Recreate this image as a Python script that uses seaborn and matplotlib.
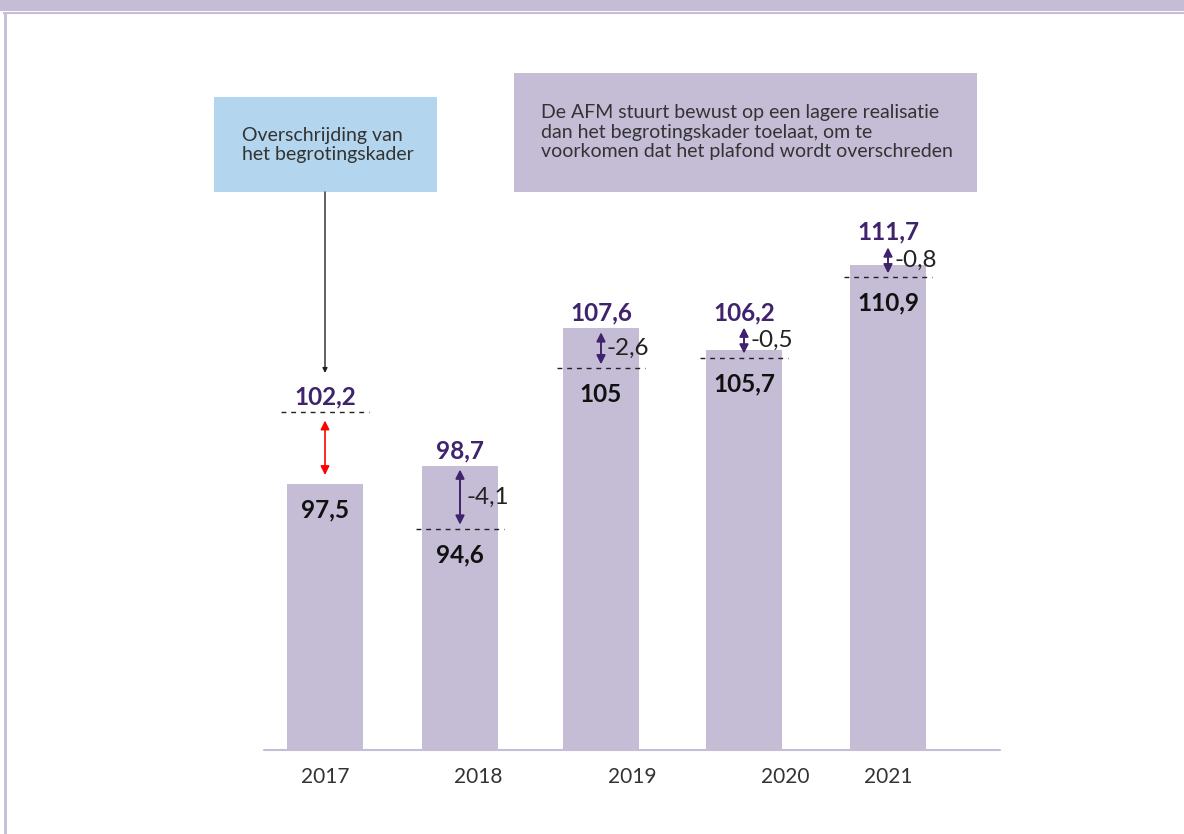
import matplotlib
matplotlib.use("Agg")
import matplotlib.pyplot as plt
from matplotlib.patches import Rectangle
import pandas as pd
import seaborn as sns

# data
years = ["2017", "2018", "2019", "2020", "2021"]
bar_values = [97.5, 98.7, 107.6, 106.2, 111.7]
line_values = [102.2, 94.6, 105.0, 105.7, 110.9]

# layout (pixel positions in the figure)
bar_x = [325, 460, 601, 744, 888]
year_x = [325, 478, 632, 785, 888]

LAV = "#c5bcd6"
PURPLE = "#3f236d"
BLUE = "#b3d6ee"
TXT = "#333333"

W, H = 1184, 834
BASE_PX = 750      # baseline row in pixels
Y0 = 80.25         # value at baseline
PPU = 15.42        # pixels per unit


def fmt(v):
    return f"{v:g}".replace(".", ",")


def px(n):
    return n / PPU


sns.set_theme(style="white")
plt.rcParams["font.family"] = ["Lato", "DejaVu Sans"]

fig = plt.figure(figsize=(W / 100, H / 100), dpi=100)

# decoration layer in pixel coordinates
deco = fig.add_axes([0, 0, 1, 1])
deco.set_xlim(0, W)
deco.set_ylim(H, 0)
deco.axis("off")

deco.add_patch(Rectangle((0, 0), W, 11, color=LAV, lw=0))
deco.plot([3, W], [12.8, 12.8], color=LAV, lw=1.5, solid_capstyle="butt")
deco.plot([4.5, 4.5], [12, H], color=LAV, lw=2, solid_capstyle="butt")

deco.add_patch(Rectangle((214, 97), 223, 95, color=BLUE, lw=0))
deco.text(242, 145, "Overschrijding van\nhet begrotingskader", ha="left", va="center",
          fontsize=14, color=TXT, linespacing=1.2)
deco.add_patch(Rectangle((514, 73), 463, 119, color=LAV, lw=0))
deco.text(541, 132, "De AFM stuurt bewust op een lagere realisatie\n"
          "dan het begrotingskader toelaat, om te\n"
          "voorkomen dat het plafond wordt overschreden",
          ha="left", va="center", fontsize=14, color=TXT, linespacing=1.2)
deco.annotate("", xy=(325, 373), xytext=(325, 192),
              arrowprops=dict(arrowstyle="-|>", color="#222222", lw=1,
                              mutation_scale=7, shrinkA=0, shrinkB=0))

deco.plot([264, 1000], [750, 750], color=LAV, lw=1.5)
for x, yr in zip(year_x, years):
    deco.text(x, 777, yr, ha="center", va="center", fontsize=15, color=TXT)

# chart layer
ax = fig.add_axes([0, (H - BASE_PX) / H, 1, BASE_PX / H])
df = pd.DataFrame({"x": bar_x, "value": bar_values})
sns.barplot(data=df, x="x", y="value", native_scale=True, width=76 / 135,
            color=LAV, saturation=1, linewidth=0, errorbar=None, ax=ax)
ax.set_xlim(0, W)
ax.set_ylim(Y0, Y0 + BASE_PX / PPU)
ax.axis("off")

for x, bar, line in zip(bar_x, bar_values, line_values):
    ax.plot([x - 44, x + 44], [line, line], color="#222222", lw=1,
            linestyle=(0, (3.5, 3.5)), clip_on=False)
    hi, lo = max(bar, line), min(bar, line)
    if line > bar:
        # overshoot of the budget framework
        ax.annotate("", xy=(x, line - px(9)), xytext=(x, bar + px(9)),
                    arrowprops=dict(arrowstyle="<|-|>", color="#ff0000", lw=1.2,
                                    mutation_scale=13, shrinkA=0, shrinkB=0))
        ref = hi
    else:
        a_bot = line + px(4)
        a_top = max(bar - px(4), a_bot + px(26))
        ax.annotate("", xy=(x, a_top), xytext=(x, a_bot),
                    arrowprops=dict(arrowstyle="<|-|>", color=PURPLE, lw=1.4,
                                    mutation_scale=13, shrinkA=0, shrinkB=0))
        ax.annotate(fmt(round(line - bar, 1)), xy=(x, (a_top + a_bot) / 2),
                    xytext=(6, 0), textcoords="offset pixels", ha="left", va="center",
                    fontsize=17.5, color="#222222")
        ref = max(bar, a_top)
    ax.annotate(fmt(hi), xy=(x, ref), xytext=(0, 15), textcoords="offset pixels",
                ha="center", va="center", fontsize=17.5, fontweight="bold", color=PURPLE)
    ax.annotate(fmt(lo), xy=(x, lo), xytext=(0, -26), textcoords="offset pixels",
                ha="center", va="center", fontsize=17.5, fontweight="bold", color="#111111")

fig.savefig("out.png", dpi=100)
